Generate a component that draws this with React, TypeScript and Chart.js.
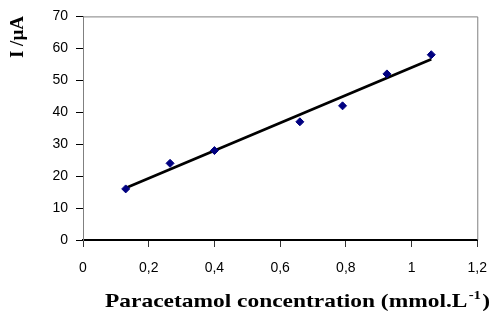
import React, { useEffect, useRef } from "react";
import { Chart, registerables } from "chart.js";

Chart.register(...registerables);

const concentrations = [0.13, 0.265, 0.4, 0.66, 0.79, 0.925, 1.06];
const currents = [16, 24, 28, 37, 42, 52, 58];
const trendX = [0.13, 1.06];
const trendY = [16.3, 56.6];
const xTicks = [0, 0.2, 0.4, 0.6, 0.8, 1, 1.2];
const yTicks = [0, 10, 20, 30, 40, 50, 60, 70];

const fmt = (v: number) => String(Number(v.toFixed(1))).replace(".", ",");

const titlePlugin = {
  id: "titles",
  afterDraw(chart: any) {
    const ctx = chart.ctx;
    const area = chart.chartArea;
    ctx.save();
    ctx.strokeStyle = "#808080";
    ctx.lineWidth = 1;
    ctx.beginPath();
    ctx.moveTo(area.left, area.top + 0.5);
    ctx.lineTo(area.right + 0.5, area.top + 0.5);
    ctx.lineTo(area.right + 0.5, area.bottom);
    ctx.stroke();
    ctx.restore();

    // x title
    ctx.save();
    ctx.fillStyle = "#000";
    ctx.textBaseline = "alphabetic";
    const main = "Paracetamol concentration (mmol.L";
    const sup = "-1";
    const end = ")";
    ctx.font = 'bold 19px "Liberation Serif"';
    const w1 = ctx.measureText(main).width;
    const w3 = ctx.measureText(end).width;
    ctx.font = 'bold 12px "Liberation Serif"';
    const w2 = ctx.measureText(sup).width;
    const total = w1 + w2 + w3 + 2;
    const target = 385;
    const sx = target / total;
    const base = 307;
    ctx.translate(105, base);
    ctx.scale(sx, 1);
    let x = 0;
    ctx.font = 'bold 19px "Liberation Serif"';
    ctx.fillText(main, x, 0);
    x += w1 + 1;
    ctx.font = 'bold 12px "Liberation Serif"';
    ctx.fillText(sup, x, -8);
    x += w2 + 1;
    ctx.font = 'bold 19px "Liberation Serif"';
    ctx.fillText(end, x, 0);
    ctx.restore();

    // y title
    ctx.save();
    ctx.fillStyle = "#000";
    ctx.translate(23, 37);
    ctx.rotate(-Math.PI / 2);
    ctx.font = 'bold 19px "Liberation Serif"';
    ctx.textAlign = "center";
    ctx.fillText("I /\u00b5A", 0, 0);
    ctx.restore();
  },
};

export default function App() {
  const ref = useRef<HTMLCanvasElement>(null);
  useEffect(() => {
    if (!ref.current) return;
    const chart = new Chart(ref.current, {
      type: "scatter",
      data: {
        datasets: [
          {
            type: "line",
            data: trendX.map((x, i) => ({ x, y: trendY[i] })),
            borderColor: "#000",
            borderWidth: 2.8,
            pointRadius: 0,
            order: 2,
          } as any,
          {
            data: concentrations.map((x, i) => ({ x, y: currents[i] })),
            backgroundColor: "#000080",
            borderColor: "#000080",
            pointStyle: "rectRot",
            pointRadius: 4,
            order: 1,
          },
        ],
      },
      options: {
        animation: false,
        responsive: false,
        layout: { padding: { top: 15, right: 20, left: 0, bottom: 0 } },
        plugins: { legend: { display: false }, tooltip: { enabled: false } },
        scales: {
          x: {
            type: "linear",
            min: 0,
            max: 1.2,
            afterBuildTicks: (s: any) => {
              s.ticks = xTicks.map((v) => ({ value: v }));
            },
            afterFit: (s: any) => {
              s.height = 77;
            },
            ticks: {
              callback: (v: any) => fmt(Number(v)),
              color: "#000",
              font: { family: "Liberation Sans", size: 14 },
              padding: 13,
              maxRotation: 0,
            },
            grid: { drawOnChartArea: false, tickLength: 7, tickColor: "#333", tickWidth: 1 },
            border: { color: "#000", width: 2 },
          },
          y: {
            min: 0,
            max: 70,
            afterBuildTicks: (s: any) => {
              s.ticks = yTicks.map((v) => ({ value: v }));
            },
            afterFit: (s: any) => {
              s.width = 83;
            },
            ticks: {
              color: "#000",
              font: { family: "Liberation Sans", size: 14 },
              padding: 8,
            },
            grid: { drawOnChartArea: false, tickLength: 7, tickColor: "#000", tickWidth: 1 },
            border: { color: "#808080", width: 1 },
          },
        },
      },
      plugins: [titlePlugin],
    });
    return () => chart.destroy();
  }, []);
  return (
    <div style={{ position: "fixed", left: 0, top: 0, width: 500, height: 317, background: "#fff" }}>
      <canvas ref={ref} width={500} height={317} />
    </div>
  );
}
